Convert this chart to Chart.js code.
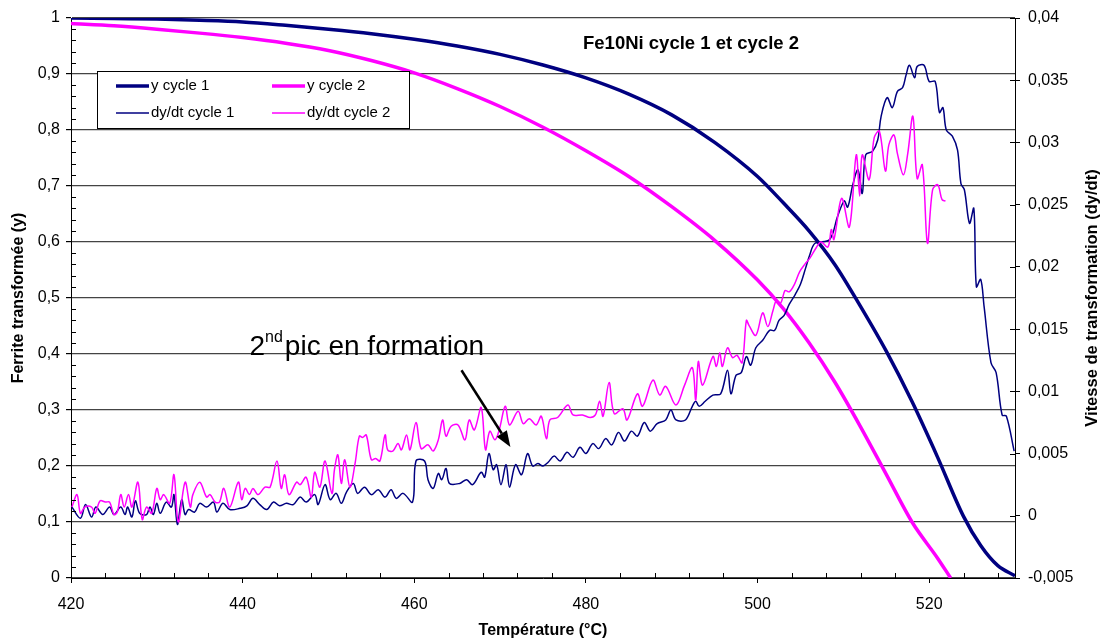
<!DOCTYPE html>
<html>
<head>
<meta charset="utf-8">
<script src="https://cdn.jsdelivr.net/npm/chart.js@4.4.1/dist/chart.umd.min.js"></script>
<style>
  body { margin: 0; background: #fff; }
  #wrap { width: 1102px; height: 643px; }
</style>
</head>
<body>
<div id="wrap"><canvas id="my-chart" width="1102" height="643"></canvas></div>
<script>
//Canvas element
let ctx = document.getElementById('my-chart');

//Data
let tempY1 = [420, 425, 430, 435, 440, 445, 450, 455, 460, 465, 470, 475, 480, 485, 490, 495, 500, 503, 506, 509, 512, 515, 518, 521, 524, 526, 528, 530];
let yCycle1 = [1.0, 0.999, 0.998, 0.996, 0.993, 0.987, 0.98, 0.972, 0.962, 0.95, 0.935, 0.916, 0.893, 0.864, 0.827, 0.778, 0.717, 0.67, 0.62, 0.56, 0.485, 0.405, 0.315, 0.215, 0.11, 0.058, 0.022, 0.004];

let tempY2 = [420, 425, 430, 435, 440, 445, 450, 455, 460, 465, 470, 475, 480, 485, 490, 495, 500, 503, 506, 509, 512, 515, 518, 521, 522.5];
let yCycle2 = [0.99, 0.986, 0.98, 0.973, 0.965, 0.955, 0.942, 0.924, 0.902, 0.874, 0.842, 0.805, 0.763, 0.717, 0.663, 0.603, 0.532, 0.481, 0.42, 0.35, 0.27, 0.185, 0.1, 0.035, 0];

let tempD1 = [420.1, 421.1, 421.7, 422.4, 422.9, 423.7, 424.5, 425.0, 425.8, 426.3, 426.6, 427.1, 427.5, 428.0, 428.8, 429.2, 429.6, 430.0, 430.4, 431.1,
  431.7, 432.0, 432.4, 432.9, 433.3, 433.7, 434.4, 435.0, 435.8, 436.6, 437.0, 437.7, 438.5, 439.7, 440.5, 441.2, 442.0, 442.8, 443.6, 444.3,
  445.1, 445.9, 446.7, 447.4, 448.4, 448.8, 449.6, 450.2, 450.9, 451.5, 452.1, 452.9, 453.4, 454.2, 455.0, 455.8, 456.6, 457.3, 457.9, 458.7,
  459.8, 460.2, 461.2, 461.6, 462.2, 462.8, 463.2, 463.7, 464.1, 465.3, 466.1, 466.8, 467.8, 468.2, 468.7, 469.2, 469.6, 470.1, 470.7, 471.1,
  471.8, 472.5, 473.2, 473.8, 474.4, 475.0, 475.6, 476.3, 477.0, 477.8, 478.5, 479.3, 480.0, 480.8, 481.5, 482.3, 483.0, 483.8, 484.5, 485.3,
  486.0, 486.8, 487.5, 488.3, 489.3, 489.9, 490.5, 491.6, 492.4, 492.8, 493.2, 493.9, 494.8, 495.7, 496.5, 496.9, 497.5, 498.1, 498.7, 499.2,
  499.8, 500.6, 501.4, 502.0, 502.5, 503.1, 503.7, 504.4, 505.0, 505.6, 506.1, 506.7, 508.4, 509.3, 510.1, 510.5, 511.1, 511.7, 512.2, 512.6,
  513.4, 514.0, 514.4, 515.1, 515.7, 516.3, 516.9, 517.3, 517.7, 518.3, 518.6, 519.4, 520.0, 520.7, 521.2, 521.6, 522.0, 522.7, 523.3, 523.7,
  524.1, 524.7, 525.2, 525.5, 526.0, 526.4, 527.2, 527.8, 528.5, 529.0, 529.9];
let dydtCycle1 = [0.0007, -0.0002, 0.0009, -0.0001, 0.0007, 0.0001, 0.0007, 0.0001, 0.0007, 0.0001, 0.0007, -0.0001, 0.0012, 0.0002, 0.0001, 0.0007, 0.0001, 0.001, 0.0002, 0.0011,
  0.0007, 0.0017, -0.0007, 0.0013, 0.0001, 0.0005, 0.0003, 0.001, 0.0007, 0.0011, 0.0003, 0.001, 0.0005, 0.0006, 0.0008, 0.0014, 0.0009, 0.0005, 0.0011, 0.0008,
  0.001, 0.0009, 0.0015, 0.0011, 0.0017, 0.0009, 0.0025, 0.0013, 0.0018, 0.001, 0.0019, 0.0026, 0.0018, 0.0023, 0.0017, 0.0021, 0.0015, 0.0021, 0.0014, 0.0018,
  0.0011, 0.0044, 0.0044, 0.0029, 0.0022, 0.0034, 0.0029, 0.0038, 0.0026, 0.0026, 0.0029, 0.0025, 0.0035, 0.0031, 0.005, 0.0037, 0.0041, 0.0025, 0.0041, 0.0023,
  0.0041, 0.0033, 0.005, 0.004, 0.0042, 0.004, 0.0043, 0.0048, 0.0044, 0.0051, 0.0047, 0.0055, 0.005, 0.0058, 0.0054, 0.0062, 0.0057, 0.0067, 0.006, 0.0068,
  0.0064, 0.0075, 0.0068, 0.0074, 0.0077, 0.0085, 0.0077, 0.0077, 0.0088, 0.0092, 0.0088, 0.0092, 0.0097, 0.0098, 0.0117, 0.0098, 0.0113, 0.0115, 0.0128, 0.0121,
  0.0135, 0.0141, 0.0149, 0.0149, 0.0157, 0.0161, 0.017, 0.0178, 0.0186, 0.0199, 0.021, 0.0219, 0.0222, 0.024, 0.0253, 0.0248, 0.0266, 0.0278, 0.0259, 0.029,
  0.0293, 0.0302, 0.0321, 0.0336, 0.0328, 0.0341, 0.0344, 0.0354, 0.0362, 0.0352, 0.0361, 0.0362, 0.0349, 0.0349, 0.0324, 0.0328, 0.031, 0.0305, 0.0294, 0.0267,
  0.0262, 0.0235, 0.0247, 0.0184, 0.019, 0.0168, 0.0123, 0.0115, 0.0081, 0.008, 0.0052];

let tempD2 = [420.1, 420.7, 421.1, 421.6, 422.4, 422.8, 423.4, 424.0, 424.5, 425.0, 425.4, 425.8, 426.2, 426.7, 427.1, 427.8, 428.3, 428.8, 429.4, 430.0,
  430.4, 430.8, 431.5, 432.0, 432.5, 433.3, 433.9, 434.2, 435.0, 435.8, 436.2, 436.8, 437.3, 437.8, 438.5, 439.5, 439.9, 440.3, 440.8, 441.2,
  441.8, 442.6, 443.2, 444.0, 444.5, 444.9, 445.4, 446.3, 446.7, 447.4, 448.0, 448.4, 449.0, 449.6, 450.4, 450.7, 451.1, 451.5, 451.9, 452.5,
  453.1, 453.6, 454.0, 454.4, 455.0, 455.5, 456.0, 456.6, 456.9, 457.5, 458.1, 458.5, 459.1, 459.5, 460.2, 460.8, 461.6, 462.2, 462.8, 463.3,
  463.7, 464.3, 465.1, 465.9, 466.4, 467.0, 467.8, 468.3, 468.8, 469.4, 469.9, 470.6, 471.1, 472.1, 472.7, 473.4, 474.2, 474.8, 475.4, 475.8,
  476.7, 477.9, 478.5, 479.6, 480.5, 481.1, 481.6, 482.0, 482.7, 483.3, 484.3, 484.8, 486.0, 486.6, 487.8, 488.6, 489.3, 490.5, 491.5, 492.4,
  492.8, 493.1, 493.6, 494.8, 495.2, 495.6, 495.9, 496.5, 497.1, 497.6, 498.2, 498.7, 499.0, 499.8, 500.6, 501.2, 501.8, 502.2, 502.7, 503.2,
  503.7, 504.3, 504.9, 505.5, 506.1, 506.8, 507.4, 508.2, 508.6, 508.9, 509.8, 510.7, 511.5, 511.9, 512.2, 513.0, 513.6, 514.2, 514.9, 515.3,
  515.9, 516.3, 517.0, 517.5, 518.1, 518.6, 519.2, 519.8, 520.4, 521.0, 521.5, 521.9];
let dydtCycle2 = [0.0007, 0.0017, 0.0002, 0.0007, 0.0007, 0.0002, 0.0012, 0.0011, 0.0011, 0.0001, 0.0003, 0.0017, 0.0007, 0.0017, 0.0007, 0.0027, -0.0003, 0.0007, 0.0002, 0.0022,
  0.0013, 0.0017, 0.001, 0.0033, -0.0005, 0.0027, 0.0007, 0.0017, 0.0027, 0.0015, 0.0017, 0.0011, 0.0011, 0.0022, 0.0007, 0.0027, 0.0013, 0.0022, 0.0017, 0.0022,
  0.0017, 0.0023, 0.0023, 0.0044, 0.0022, 0.0033, 0.0017, 0.0027, 0.0025, 0.0031, 0.0015, 0.0035, 0.0023, 0.0044, 0.0018, 0.0037, 0.0049, 0.0026, 0.0045, 0.0023,
  0.0042, 0.0064, 0.0063, 0.0065, 0.0045, 0.0046, 0.0044, 0.0065, 0.0053, 0.0052, 0.0058, 0.0053, 0.0065, 0.0053, 0.0075, 0.0054, 0.0057, 0.0052, 0.0061, 0.0077,
  0.0064, 0.0072, 0.0073, 0.0061, 0.0077, 0.0069, 0.0087, 0.0053, 0.0068, 0.0061, 0.0069, 0.0088, 0.0073, 0.0084, 0.0074, 0.0078, 0.0073, 0.008, 0.0062, 0.0077,
  0.0079, 0.0089, 0.0081, 0.0081, 0.0079, 0.0081, 0.0092, 0.008, 0.0107, 0.0082, 0.0086, 0.0077, 0.0098, 0.0088, 0.0109, 0.0097, 0.0104, 0.0089, 0.0105, 0.0119,
  0.0093, 0.0124, 0.0105, 0.0128, 0.012, 0.0131, 0.012, 0.0135, 0.0127, 0.0129, 0.0123, 0.0157, 0.0153, 0.0145, 0.0163, 0.0152, 0.0165, 0.0173, 0.0171, 0.0181,
  0.018, 0.0186, 0.0196, 0.0202, 0.0207, 0.0215, 0.022, 0.0216, 0.023, 0.0222, 0.0255, 0.0232, 0.029, 0.0257, 0.029, 0.027, 0.0304, 0.0309, 0.0277, 0.0298,
  0.0306, 0.0291, 0.0274, 0.0291, 0.0321, 0.0271, 0.0282, 0.0219, 0.0262, 0.0266, 0.0254, 0.0253];

//Tick and label text
let chartTitle = 'Fe10Ni cycle 1 et cycle 2';
let xTitle = 'Température (°C)';
let yTitle = 'Ferrite transformée (y)';
let y1Title = 'Vitesse de transformation (dy/dt)';
let seriesNames = ['y cycle 1', 'y cycle 2', 'dy/dt cycle 1', 'dy/dt cycle 2'];

let navy = '#000080';
let magenta = '#ff00ff';
let fontFamily = '"Liberation Sans", Arial, sans-serif';

//helpers
function toPoints(xs, ys) {
  let pts = [];
  for (let i = 0; i < xs.length; i++) {
    pts.push({ x: xs[i], y: ys[i] });
  }
  return pts;
}

function frenchNumber(v, digits) {
  return String(parseFloat(v.toFixed(digits))).replace('.', ',');
}

function strokeLine(c, x1, y1, x2, y2) {
  c.beginPath();
  c.moveTo(x1, y1);
  c.lineTo(x2, y2);
  c.stroke();
}

//Extra drawing: minor ticks, titles, legend box, annotation
let decorPlugin = {
  id: 'decor',
  afterDraw(chart) {
    let c = chart.ctx;
    let area = chart.chartArea;
    let xs = chart.scales.x;
    let ys = chart.scales.y;
    let ys1 = chart.scales.y1;
    c.save();
    c.strokeStyle = '#000';
    c.lineWidth = 1;

    // minor ticks on the temperature axis (inside)
    for (let t = 424; t < 530; t += 4) {
      if (t % 20 === 0) continue;
      let px = Math.round(xs.getPixelForValue(t)) + 0.5;
      strokeLine(c, px, area.bottom, px, area.bottom - 5);
    }
    // minor ticks on the left axis (inside)
    for (let i = 1; i < 50; i++) {
      if (i % 5 === 0) continue;
      let py = Math.round(ys.getPixelForValue(i * 0.02)) + 0.5;
      strokeLine(c, area.left, py, area.left + 5, py);
    }
    // right axis ticks cross the axis line
    ys1.ticks.forEach(function (tk) {
      let py = Math.round(ys1.getPixelForValue(tk.value)) + 0.5;
      strokeLine(c, area.right - 5, py, area.right, py);
    });

    // axis titles
    c.fillStyle = '#000';
    c.font = 'bold 16px ' + fontFamily;
    c.textAlign = 'center';
    c.textBaseline = 'middle';
    c.fillText(xTitle, (area.left + area.right) / 2, chart.height - 12);
    let midY = (area.top + area.bottom) / 2;
    c.save();
    c.translate(19, midY);
    c.rotate(-Math.PI / 2);
    c.fillText(yTitle, 0, 0);
    c.restore();
    c.save();
    c.translate(chart.width - 10, midY);
    c.rotate(-Math.PI / 2);
    c.font = 'bold 16.5px ' + fontFamily;
    c.fillText(y1Title, 0, 0);
    c.restore();

    // chart title inside the plot
    c.font = 'bold 18.5px ' + fontFamily;
    c.textAlign = 'left';
    c.textBaseline = 'alphabetic';
    c.fillText(chartTitle, area.left + 512, area.top + 31);

    // legend box
    let bx = area.left + 26, by = area.top + 53, bw = 312, bh = 57;
    c.fillStyle = '#fff';
    c.fillRect(bx, by, bw, bh);
    c.strokeStyle = '#000';
    c.lineWidth = 1;
    c.strokeRect(bx + 0.5, by + 0.5, bw, bh);
    c.font = '15px ' + fontFamily;
    c.textBaseline = 'middle';
    chart.data.datasets.forEach(function (ds, i) {
      let col = i % 2, row = Math.floor(i / 2);
      let lx = bx + 19 + col * 156;
      let ly = by + 15 + row * 27;
      c.strokeStyle = ds.borderColor;
      c.lineWidth = ds.borderWidth;
      strokeLine(c, lx, ly, lx + 33, ly);
      c.fillStyle = '#000';
      c.fillText(ds.label, lx + 35, ly);
    });

    // annotation "2nd pic en formation" with arrow
    let tx = xs.getPixelForValue(440.8);
    let ty = ys.getPixelForValue(0.398);
    c.fillStyle = '#000';
    c.textBaseline = 'alphabetic';
    c.font = '28px ' + fontFamily;
    c.fillText('2', tx, ty);
    tx += c.measureText('2').width;
    c.font = '16px ' + fontFamily;
    c.fillText('nd', tx, ty - 13);
    tx += c.measureText('nd').width + 2;
    c.font = '28px ' + fontFamily;
    c.fillText('pic en formation', tx, ty);

    let ax1 = xs.getPixelForValue(465.5), ay1 = ys.getPixelForValue(0.371);
    let ax2 = xs.getPixelForValue(471.2), ay2 = ys.getPixelForValue(0.234);
    let ang = Math.atan2(ay2 - ay1, ax2 - ax1);
    let head = 16, half = 6;
    c.strokeStyle = '#000';
    c.lineWidth = 2.5;
    strokeLine(c, ax1, ay1, ax2 - Math.cos(ang) * head, ay2 - Math.sin(ang) * head);
    c.beginPath();
    c.moveTo(ax2, ay2);
    c.lineTo(ax2 - Math.cos(ang) * head - Math.sin(ang) * half, ay2 - Math.sin(ang) * head + Math.cos(ang) * half);
    c.lineTo(ax2 - Math.cos(ang) * head + Math.sin(ang) * half, ay2 - Math.sin(ang) * head - Math.cos(ang) * half);
    c.closePath();
    c.fill();
    c.restore();
  }
};

Chart.defaults.font.family = fontFamily;
Chart.defaults.color = '#000';

let chartObject = {
  type: 'line',
  data: {
    datasets: [{
      label: seriesNames[0],
      data: toPoints(tempY1, yCycle1),
      borderColor: navy,
      borderWidth: 3.5,
      yAxisID: 'y',
      cubicInterpolationMode: 'monotone',
      order: 3
    },
    {
      label: seriesNames[1],
      data: toPoints(tempY2, yCycle2),
      borderColor: magenta,
      borderWidth: 3.5,
      yAxisID: 'y',
      cubicInterpolationMode: 'monotone',
      order: 2
    },
    {
      label: seriesNames[2],
      data: toPoints(tempD1, dydtCycle1),
      borderColor: navy,
      borderWidth: 1.5,
      yAxisID: 'y1',
      tension: 0.35,
      order: 1
    },
    {
      label: seriesNames[3],
      data: toPoints(tempD2, dydtCycle2),
      borderColor: magenta,
      borderWidth: 1.5,
      yAxisID: 'y1',
      tension: 0.35,
      order: 0
    }]
  },
  options: {
    responsive: false,
    animation: false,
    devicePixelRatio: 1,
    layout: { padding: { top: 18, left: 0, right: 0, bottom: 0 } },
    elements: { point: { radius: 0 } },
    plugins: {
      legend: { display: false },
      tooltip: { enabled: false }
    },
    scales: {
      x: {
        type: 'linear',
        min: 420,
        max: 530,
        afterFit: function (s) { s.height = 65; },
        ticks: { stepSize: 20, includeBounds: false, maxRotation: 0, padding: 12, font: { size: 16 } },
        grid: { drawOnChartArea: false, tickLength: 5, tickColor: '#000' },
        border: { color: '#000' }
      },
      y: {
        position: 'left',
        min: 0,
        max: 1,
        afterFit: function (s) { s.width = 71; },
        ticks: { stepSize: 0.1, padding: 6, font: { size: 16 }, callback: function (v) { return frenchNumber(v, 1); } },
        grid: { color: '#444', lineWidth: 1.2, tickLength: 5, tickColor: '#000' },
        border: { color: '#000' }
      },
      y1: {
        position: 'right',
        min: -0.005,
        max: 0.04,
        afterFit: function (s) { s.width = 87; },
        ticks: { stepSize: 0.005, padding: 8, font: { size: 16 }, callback: function (v) { return frenchNumber(v, 3); } },
        grid: { drawOnChartArea: false, tickLength: 5, tickColor: '#000' },
        border: { color: '#000' }
      }
    }
  },
  plugins: [decorPlugin]
};

const myChart = new Chart(ctx, chartObject); //eslint-disable-line
</script>
</body>
</html>
